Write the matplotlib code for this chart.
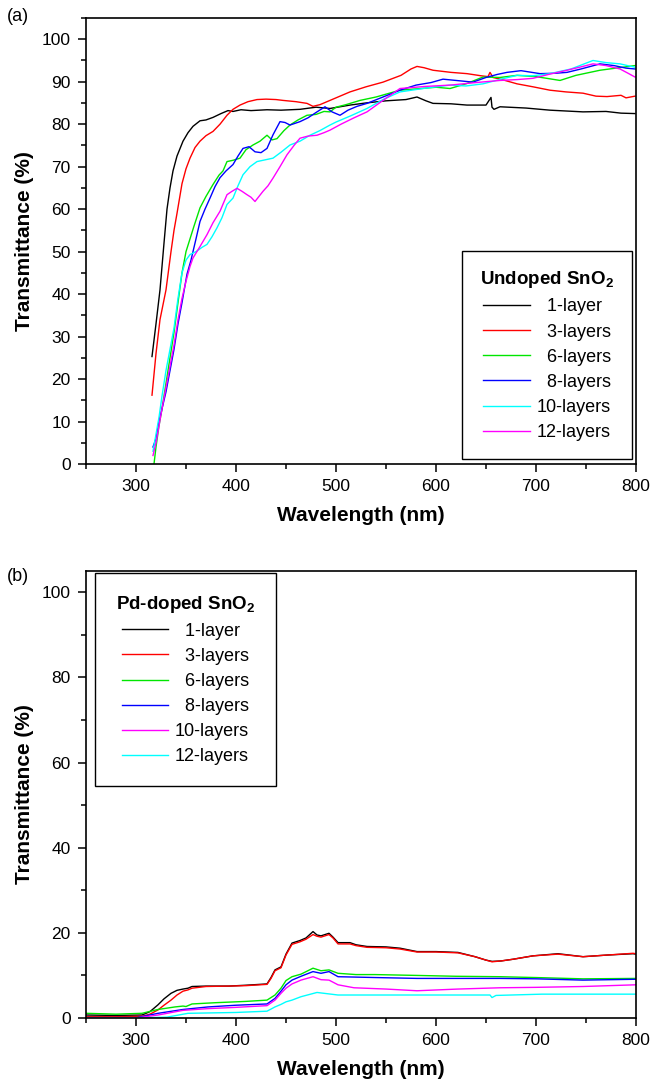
import numpy as np
import matplotlib
matplotlib.use("Agg")
import matplotlib.pyplot as plt
from matplotlib.ticker import MultipleLocator

plt.rcParams['font.family'] = ['Liberation Sans', 'DejaVu Sans']
plt.rcParams['mathtext.fontset'] = 'custom'
plt.rcParams['mathtext.rm'] = 'Liberation Sans'
plt.rcParams['mathtext.bf'] = 'Liberation Sans:bold'

# ---------------- (a) undoped SnO2 ----------------
a1_wl = [316, 320, 324, 328, 331, 334, 337, 341, 347, 352, 357, 364, 370, 377, 385, 392, 397,
         405, 415, 431, 445, 464, 480, 494, 514, 530, 550, 570, 581, 590, 597, 615, 631, 650,
         655, 656, 658, 664, 690, 714, 747, 770, 785, 799]
a1_T = [25.3, 33, 41, 52, 60, 65, 69, 72.5, 76, 78, 79.5, 80.8, 81, 81.6, 82.5, 83.2, 83,
        83.4, 83.2, 83.4, 83.3, 83.5, 84, 83.7, 84.5, 85, 85.5, 85.8, 86.4, 85.5, 84.9, 84.8, 84.5, 84.5,
        86.3, 84.0, 83.5, 84.1, 83.8, 83.3, 82.9, 83.0, 82.6, 82.5]

a3_wl = [316, 320, 324, 330, 335, 338, 341, 346, 350, 354, 359, 364, 370, 377, 384, 391, 397, 404,
         412, 421, 430, 440, 447, 460, 471, 477, 484, 494, 505, 514, 530, 547, 565, 575, 581, 588,
         597, 615, 631, 645, 652, 654, 657, 666, 681, 697, 714, 730, 747, 760, 771, 785, 790, 799]
a3_T = [16.2, 26, 34, 41, 50, 55, 59, 66, 69.5, 72, 74.5, 76, 77.3, 78.3, 80, 82.1, 83.5, 84.5,
        85.3, 85.8, 85.9, 85.8, 85.6, 85.3, 84.9, 84.2, 84.6, 85.6, 86.7, 87.6, 88.8, 89.9, 91.5, 93, 93.6, 93.3,
        92.7, 92.2, 91.9, 91.4, 91.2, 92.2, 91.0, 90.5, 89.5, 88.8, 88, 87.6, 87.3, 86.6, 86.5, 86.8, 86.2, 86.6]

a6_wl = [318, 320, 323, 326, 330, 334, 338, 342, 346, 350, 354, 358, 364, 370, 377, 383, 387, 391,
         397, 404, 410, 417, 424, 431, 436, 441, 448, 454, 462, 471, 480, 488, 494, 500, 510, 524,
         540, 555, 564, 580, 600, 614, 630, 647, 664, 681, 700, 724, 740, 764, 780, 799]
a6_T = [0, 4, 9, 13, 19, 25, 31, 38, 45, 50, 53, 56, 60.3, 63, 65.8, 68, 69, 71.2,
        71.5, 72, 74, 75.1, 76, 77.4, 76.3, 76.6, 78.5, 79.8, 81, 82.1, 82.3, 83, 82.9, 84, 84.6, 85.6,
        86.4, 87.4, 88, 88.3, 88.7, 88.4, 89.5, 91.1, 91, 91.5, 91.2, 90.3, 91.5, 92.7, 93.2, 93.8]

a8_wl = [317, 320, 323, 326, 330, 334, 338, 342, 346, 351, 355, 360, 364, 369, 374, 379, 384, 390,
         397, 402, 407, 413, 419, 425, 431, 437, 444, 449, 454, 459, 464, 472, 481, 489, 496, 504,
         512, 521, 531, 547, 564, 580, 595, 607, 620, 637, 650, 661, 671, 685, 704, 720, 731, 745,
         764, 778, 790, 799]
a8_T = [4, 6, 10, 13, 17, 22, 27, 33, 38, 44.7, 48, 53, 57.1, 60, 62.6, 65.3, 67.4, 69,
        70.5, 72.5, 74.3, 74.7, 73.5, 73.3, 74.3, 77.5, 80.6, 80.4, 79.8, 80.2, 80.6, 81.5, 82.9, 84.1, 82.9, 82.1,
        83.3, 84.2, 84.9, 86.4, 88, 89.2, 89.8, 90.6, 90.3, 89.9, 91, 91.7, 92.2, 92.6, 91.9, 92, 92.2, 93,
        94.2, 93.8, 93.2, 93]

a10_wl = [317, 320, 323, 326, 330, 334, 338, 342, 346, 350, 354, 360, 366, 371, 376, 381, 386, 391,
          397, 402, 407, 414, 421, 429, 437, 445, 454, 464, 474, 484, 494, 500, 515, 531, 547, 564,
          590, 614, 630, 647, 665, 681, 697, 714, 735, 757, 770, 784, 799]
a10_T = [3, 7, 11, 16, 22, 27, 32, 39, 45, 48, 49.3, 50, 51, 51.7, 53.5, 55.6, 58, 61.1,
         62.6, 65.5, 68.1, 70, 71.2, 71.6, 72, 73.4, 75.1, 76, 77.4, 78.5, 79.8, 80.5, 82, 83.7, 85.8, 87.6,
         88.5, 89.2, 89, 89.5, 90.6, 91.5, 91.4, 91.9, 93, 95, 94.5, 94.2, 93.4]

a12_wl = [317, 320, 323, 326, 330, 334, 338, 342, 346, 350, 354, 357, 364, 371, 377, 384, 391, 396,
          401, 406, 411, 415, 419, 423, 427, 432, 437, 444, 451, 458, 464, 472, 481, 488, 494, 505,
          518, 531, 547, 564, 590, 614, 640, 664, 681, 697, 714, 731, 745, 757, 770, 784, 792, 799]
a12_T = [2, 5, 9, 13, 18, 23, 28, 34, 39, 43, 46.5, 48.5, 51.2, 54, 56.8, 59.5, 63.4, 64.2,
         64.9, 64.2, 63.4, 62.8, 61.8, 63, 64.2, 65.5, 67.3, 70, 72.8, 75, 76.7, 77.2, 77.4, 78, 78.6, 80,
         81.5, 82.9, 85.6, 88.4, 88.9, 89.2, 89.8, 90.3, 90.5, 90.8, 91.8, 92.7, 93.5, 94.2, 93.8, 93, 92, 91.1]

# ---------------- (b) Pd-doped SnO2 ----------------
b1_wl = [250, 280, 306, 314, 322, 328, 335, 341, 347, 352, 356, 370, 393, 410, 431, 435, 439, 445,
         450, 456, 464, 470, 477, 481, 485, 493, 497, 502, 514, 520, 531, 550, 564, 581, 600, 622,
         639, 650, 656, 665, 677, 697, 722, 747, 772, 797, 800]
b1_T = [0.7, 0.6, 0.7, 1.5, 3.1, 4.5, 5.8, 6.5, 6.8, 7.0, 7.4, 7.5, 7.5, 7.7, 8.0, 9.5, 11.3, 12,
        15, 17.6, 18.2, 18.8, 20.3, 19.5, 19.3, 19.9, 19, 17.7, 17.7, 17.2, 16.8, 16.7, 16.4, 15.6, 15.6, 15.4,
        14.4, 13.6, 13.3, 13.4, 13.8, 14.6, 15.1, 14.4, 14.8, 15.1, 15.0]

b3_wl = [250, 280, 306, 314, 322, 328, 335, 341, 347, 352, 356, 370, 393, 410, 431, 435, 439, 445,
         450, 456, 464, 470, 477, 481, 485, 493, 497, 502, 514, 520, 531, 550, 564, 581, 600, 622,
         639, 650, 656, 665, 677, 697, 722, 747, 772, 797, 800]
b3_T = [0.3, 0.3, 0.4, 0.9, 1.9, 3.0, 4.2, 5.4, 6.3, 6.6, 7.0, 7.4, 7.5, 7.6, 7.9, 9.3, 11.1, 11.8,
        14.8, 17.3, 17.9, 18.5, 19.6, 19.2, 19.0, 19.6, 18.8, 17.4, 17.4, 17.0, 16.6, 16.5, 16.2, 15.5, 15.5, 15.3,
        14.4, 13.6, 13.2, 13.4, 13.8, 14.6, 15.0, 14.4, 14.8, 15.2, 15.1]

b6_wl = [250, 280, 306, 322, 339, 347, 350, 356, 380, 410, 431, 439, 445, 450, 456, 465, 477, 485,
         493, 502, 520, 539, 581, 620, 664, 700, 747, 800]
b6_T = [1.1, 0.9, 1.1, 2.0, 2.6, 2.8, 2.7, 3.3, 3.6, 3.9, 4.2, 5.4, 7, 8.8, 9.7, 10.3, 11.7, 11.1,
        11.3, 10.5, 10.2, 10.2, 10.0, 9.8, 9.7, 9.5, 9.2, 9.3]

b8_wl = [250, 301, 322, 347, 372, 400, 431, 439, 445, 450, 456, 465, 477, 485, 493, 502, 540, 581,
         664, 700, 747, 800]
b8_T = [0.1, 0.1, 1.1, 2.0, 2.6, 3.0, 3.3, 4.6, 6.3, 7.8, 8.9, 9.8, 10.9, 10.5, 10.9, 9.7, 9.5, 9.3,
        9.3, 9.2, 8.9, 9.1]

b10_wl = [250, 300, 322, 347, 372, 400, 431, 439, 445, 450, 456, 465, 477, 485, 493, 502, 518, 550,
          581, 622, 664, 700, 747, 800]
b10_T = [0.0, 0.0, 0.7, 1.8, 2.2, 2.5, 2.9, 4.2, 5.8, 7.0, 8.0, 8.9, 9.7, 9.0, 8.9, 7.8, 7.1, 6.8,
         6.4, 6.8, 7.1, 7.2, 7.4, 7.8]

b12_wl = [250, 300, 331, 352, 400, 431, 439, 445, 450, 456, 465, 481, 502, 539, 622, 654, 656, 660,
          706, 800]
b12_T = [0.0, 0.0, 0.2, 1.1, 1.3, 1.6, 2.6, 3.2, 3.8, 4.2, 5.0, 6.0, 5.4, 5.4, 5.4, 5.4, 4.8, 5.3,
         5.6, 5.6]

labels = ['  1-layer', '  3-layers', '  6-layers', '  8-layers', '10-layers', '12-layers']
colors_a = ['black', '#ff0000', '#00e600', '#0000ff', '#00ffff', '#ff00ff']
colors_b = ['black', '#ff0000', '#00e600', '#0000ff', '#ff00ff', '#00ffff']

series_a = [(a1_wl, a1_T), (a3_wl, a3_T), (a6_wl, a6_T), (a8_wl, a8_T), (a10_wl, a10_T), (a12_wl, a12_T)]
series_b = [(b1_wl, b1_T), (b3_wl, b3_T), (b6_wl, b6_T), (b8_wl, b8_T), (b10_wl, b10_T), (b12_wl, b12_T)]

W, H = 656, 1085
fig = plt.figure(figsize=(W / 100, H / 100), dpi=100)


def style_axes(ax, ymajor, yminor):
    ax.set_xlim(250, 800)
    ax.set_ylim(0, 105)
    ax.xaxis.set_major_locator(MultipleLocator(100))
    ax.xaxis.set_minor_locator(MultipleLocator(50))
    ax.yaxis.set_major_locator(MultipleLocator(ymajor))
    ax.yaxis.set_minor_locator(MultipleLocator(yminor))
    ax.tick_params(which='both', direction='out', top=False, right=False, width=1.1,
                   labelsize=12.5, pad=5)
    ax.tick_params(which='major', length=6)
    ax.tick_params(which='minor', length=3.5)
    for s in ax.spines.values():
        s.set_linewidth(1.2)
    ax.set_xlabel('Wavelength (nm)', fontsize=15, fontweight='bold')
    ax.set_ylabel('Transmittance (%)', fontsize=15, fontweight='bold')
    ax.xaxis.set_label_coords(0.5, -0.095)
    ax.yaxis.set_label_coords(-0.094, 0.5)


def add_legend(ax, title, loc, anchor, pad):
    leg = ax.legend(loc=loc, bbox_to_anchor=anchor, title=title, fontsize=13,
                    title_fontproperties={'size': 13.5, 'weight': 'bold'},
                    frameon=True, fancybox=False, framealpha=1, edgecolor='black',
                    handlelength=2.6, handletextpad=0.35, labelspacing=0.45,
                    borderpad=pad, borderaxespad=0)
    leg.get_frame().set_linewidth(1.0)
    return leg


# panel (a)
ax_a = fig.add_axes([86 / W, 1 - 464 / H, 550 / W, 446 / H])
for (wl, T), c, lab in zip(series_a, colors_a, labels):
    ax_a.plot(wl, T, color=c, lw=1.0, label=lab)
style_axes(ax_a, 10, 5)
add_legend(ax_a, r'Undoped SnO$_\mathbf{2}$', 'lower right', (0.993, 0.011), 1.0)
fig.text(7 / W, 1 - 8 / H, '(a)', fontsize=13, va='top', ha='left')

# panel (b)
ax_b = fig.add_axes([86 / W, 1 - 1018 / H, 550 / W, 447 / H])
for (wl, T), c, lab in zip(series_b, colors_b, labels):
    ax_b.plot(wl, T, color=c, lw=1.0, label=lab)
style_axes(ax_b, 20, 10)
add_legend(ax_b, r'Pd-doped SnO$_\mathbf{2}$', 'upper left', (0.016, 0.996), 1.15)
fig.text(7 / W, 1 - 568 / H, '(b)', fontsize=13, va='top', ha='left')

fig.savefig('out.png', dpi=100)
